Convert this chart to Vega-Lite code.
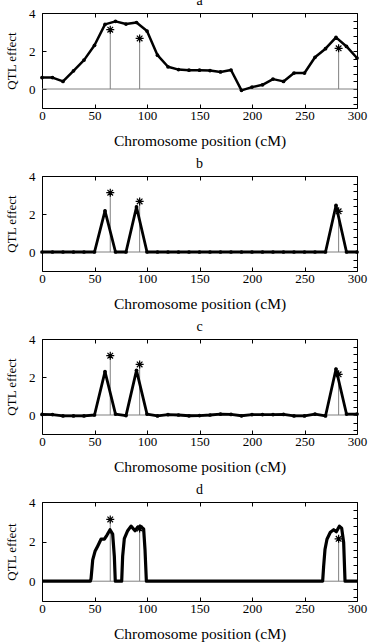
{
  "$schema": "https://vega.github.io/schema/vega-lite/v6.json",
  "padding": {"left": 5, "top": -7, "right": 10, "bottom": 0},
  "spacing": 7,
  "config": {
    "view": {"stroke": "black", "strokeWidth": 1},
    "font": "Liberation Serif",
    "title": {"font": "Liberation Serif", "fontSize": 14, "fontWeight": "normal", "color": "black", "offset": -1},
    "axis": {
      "domain": false, "grid": false, "minExtent": 0, "ticks": true,
      "tickColor": "black", "tickSize": -4, "tickWidth": 1,
      "labelColor": "black", "labelFont": "Liberation Serif", "labelFontSize": 13,
      "labelOverlap": false, "labelFlush": false,
      "titleColor": "black", "titleFont": "Liberation Serif", "titleFontWeight": "normal"
    }
  },
  "datasets": {
    "profile": [
      {"panel": "a", "pos": 0, "effect": 0.6}, {"panel": "a", "pos": 10, "effect": 0.6}, {"panel": "a", "pos": 20, "effect": 0.4},
      {"panel": "a", "pos": 30, "effect": 0.96}, {"panel": "a", "pos": 40, "effect": 1.52}, {"panel": "a", "pos": 50, "effect": 2.3},
      {"panel": "a", "pos": 60, "effect": 3.4}, {"panel": "a", "pos": 70, "effect": 3.56}, {"panel": "a", "pos": 80, "effect": 3.42},
      {"panel": "a", "pos": 90, "effect": 3.5}, {"panel": "a", "pos": 100, "effect": 3.05}, {"panel": "a", "pos": 110, "effect": 1.78},
      {"panel": "a", "pos": 120, "effect": 1.17}, {"panel": "a", "pos": 130, "effect": 1.02}, {"panel": "a", "pos": 140, "effect": 0.99},
      {"panel": "a", "pos": 150, "effect": 0.99}, {"panel": "a", "pos": 160, "effect": 0.97}, {"panel": "a", "pos": 170, "effect": 0.9},
      {"panel": "a", "pos": 180, "effect": 1.0}, {"panel": "a", "pos": 190, "effect": -0.07}, {"panel": "a", "pos": 200, "effect": 0.1},
      {"panel": "a", "pos": 210, "effect": 0.22}, {"panel": "a", "pos": 220, "effect": 0.52}, {"panel": "a", "pos": 230, "effect": 0.4},
      {"panel": "a", "pos": 240, "effect": 0.84}, {"panel": "a", "pos": 250, "effect": 0.84}, {"panel": "a", "pos": 260, "effect": 1.67},
      {"panel": "a", "pos": 270, "effect": 2.12}, {"panel": "a", "pos": 280, "effect": 2.72}, {"panel": "a", "pos": 290, "effect": 2.24},
      {"panel": "a", "pos": 300, "effect": 1.63},

      {"panel": "b", "pos": 0, "effect": 0}, {"panel": "b", "pos": 10, "effect": 0}, {"panel": "b", "pos": 20, "effect": 0},
      {"panel": "b", "pos": 30, "effect": 0}, {"panel": "b", "pos": 40, "effect": 0}, {"panel": "b", "pos": 50, "effect": 0},
      {"panel": "b", "pos": 60, "effect": 2.16}, {"panel": "b", "pos": 70, "effect": 0}, {"panel": "b", "pos": 80, "effect": 0},
      {"panel": "b", "pos": 90, "effect": 2.37}, {"panel": "b", "pos": 100, "effect": 0}, {"panel": "b", "pos": 110, "effect": 0},
      {"panel": "b", "pos": 120, "effect": 0}, {"panel": "b", "pos": 130, "effect": 0}, {"panel": "b", "pos": 140, "effect": 0},
      {"panel": "b", "pos": 150, "effect": 0}, {"panel": "b", "pos": 160, "effect": 0}, {"panel": "b", "pos": 170, "effect": 0},
      {"panel": "b", "pos": 180, "effect": 0}, {"panel": "b", "pos": 190, "effect": 0}, {"panel": "b", "pos": 200, "effect": 0},
      {"panel": "b", "pos": 210, "effect": 0}, {"panel": "b", "pos": 220, "effect": 0}, {"panel": "b", "pos": 230, "effect": 0},
      {"panel": "b", "pos": 240, "effect": 0}, {"panel": "b", "pos": 250, "effect": 0}, {"panel": "b", "pos": 260, "effect": 0},
      {"panel": "b", "pos": 270, "effect": 0}, {"panel": "b", "pos": 280, "effect": 2.45}, {"panel": "b", "pos": 290, "effect": 0},
      {"panel": "b", "pos": 300, "effect": 0},

      {"panel": "c", "pos": 0, "effect": 0.03}, {"panel": "c", "pos": 10, "effect": 0.02}, {"panel": "c", "pos": 20, "effect": -0.05},
      {"panel": "c", "pos": 30, "effect": -0.05}, {"panel": "c", "pos": 40, "effect": -0.05}, {"panel": "c", "pos": 50, "effect": 0},
      {"panel": "c", "pos": 60, "effect": 2.28}, {"panel": "c", "pos": 70, "effect": 0.05}, {"panel": "c", "pos": 80, "effect": -0.03},
      {"panel": "c", "pos": 90, "effect": 2.35}, {"panel": "c", "pos": 100, "effect": 0.05}, {"panel": "c", "pos": 110, "effect": -0.05},
      {"panel": "c", "pos": 120, "effect": 0.02}, {"panel": "c", "pos": 130, "effect": 0}, {"panel": "c", "pos": 140, "effect": -0.04},
      {"panel": "c", "pos": 150, "effect": -0.03}, {"panel": "c", "pos": 160, "effect": 0}, {"panel": "c", "pos": 170, "effect": 0.05},
      {"panel": "c", "pos": 180, "effect": 0.03}, {"panel": "c", "pos": 190, "effect": -0.04}, {"panel": "c", "pos": 200, "effect": 0.02},
      {"panel": "c", "pos": 210, "effect": 0.02}, {"panel": "c", "pos": 220, "effect": 0.02}, {"panel": "c", "pos": 230, "effect": 0.03},
      {"panel": "c", "pos": 240, "effect": -0.05}, {"panel": "c", "pos": 250, "effect": -0.05}, {"panel": "c", "pos": 260, "effect": 0.04},
      {"panel": "c", "pos": 270, "effect": -0.05}, {"panel": "c", "pos": 280, "effect": 2.42}, {"panel": "c", "pos": 290, "effect": 0.05},
      {"panel": "c", "pos": 300, "effect": 0.05},

      {"panel": "d", "pos": 0, "effect": 0}, {"panel": "d", "pos": 46, "effect": 0}, {"panel": "d", "pos": 46.7, "effect": 0.12},
      {"panel": "d", "pos": 48.3, "effect": 1.08}, {"panel": "d", "pos": 50.5, "effect": 1.51}, {"panel": "d", "pos": 53, "effect": 1.77},
      {"panel": "d", "pos": 56.2, "effect": 2.12}, {"panel": "d", "pos": 59.4, "effect": 2.12}, {"panel": "d", "pos": 61.9, "effect": 2.33},
      {"panel": "d", "pos": 64.8, "effect": 2.6}, {"panel": "d", "pos": 67.3, "effect": 2.38}, {"panel": "d", "pos": 68.9, "effect": 1.25},
      {"panel": "d", "pos": 69.8, "effect": 0}, {"panel": "d", "pos": 75.9, "effect": 0}, {"panel": "d", "pos": 76.8, "effect": 1.25},
      {"panel": "d", "pos": 78.4, "effect": 2.15}, {"panel": "d", "pos": 81.6, "effect": 2.55}, {"panel": "d", "pos": 84.8, "effect": 2.78},
      {"panel": "d", "pos": 88.6, "effect": 2.55}, {"panel": "d", "pos": 91.1, "effect": 2.73}, {"panel": "d", "pos": 93.7, "effect": 2.78},
      {"panel": "d", "pos": 96.8, "effect": 2.64}, {"panel": "d", "pos": 98.1, "effect": 1.6}, {"panel": "d", "pos": 99.4, "effect": 0},
      {"panel": "d", "pos": 267.3, "effect": 0}, {"panel": "d", "pos": 268.2, "effect": 0.73}, {"panel": "d", "pos": 269.5, "effect": 1.6},
      {"panel": "d", "pos": 271.4, "effect": 2.12}, {"panel": "d", "pos": 274.6, "effect": 2.47}, {"panel": "d", "pos": 277.8, "effect": 2.6},
      {"panel": "d", "pos": 280.3, "effect": 2.5}, {"panel": "d", "pos": 283.2, "effect": 2.78}, {"panel": "d", "pos": 285.4, "effect": 2.68},
      {"panel": "d", "pos": 287.3, "effect": 1.95}, {"panel": "d", "pos": 288.6, "effect": 0}, {"panel": "d", "pos": 300, "effect": 0}
    ],
    "qtl": [
      {"pos": 65, "effect": 3.12},
      {"pos": 93, "effect": 2.66},
      {"pos": 282.5, "effect": 2.14}
    ],
    "baseline": [
      {"start": 0, "end": 300, "effect": 0}
    ]
  },
  "vconcat": [
    {
      "title": "a", "width": 315, "height": 95,
      "resolve": {"axis": {"x": "independent", "y": "independent"}},
      "layer": [
        {
          "data": {"name": "baseline"},
          "mark": {"type": "rule", "color": "#808080", "strokeWidth": 1},
          "encoding": {
            "x": {"field": "start", "type": "quantitative", "scale": {"domain": [0, 300], "nice": false},
                  "axis": {"orient": "top", "values": [0, 50, 100, 150, 200, 250, 300], "labels": false, "ticks": true, "title": null}},
            "x2": {"field": "end"},
            "y": {"field": "effect", "type": "quantitative", "scale": {"domain": [-1, 4], "nice": false},
                  "axis": {"orient": "right", "values": [-0.8, -0.4, 0, 0.4, 0.8, 1.2, 1.6, 2, 2.4, 2.8, 3.2, 3.6, 4], "labels": false, "ticks": true, "title": null}}
          }
        },
        {
          "data": {"name": "qtl"},
          "mark": {"type": "rule", "color": "#808080", "strokeWidth": 1},
          "encoding": {
            "x": {"field": "pos", "type": "quantitative", "axis": null},
            "y": {"field": "effect", "type": "quantitative", "axis": null},
            "y2": {"datum": 0}
          }
        },
        {
          "data": {"name": "qtl"},
          "mark": {"type": "point", "shape": "M-1,0L1,0M0,-1L0,1M-0.7,-0.7L0.7,0.7M-0.7,0.7L0.7,-0.7", "size": 64, "filled": false, "color": "black", "strokeWidth": 1.2, "opacity": 1},
          "encoding": {
            "x": {"field": "pos", "type": "quantitative", "axis": null},
            "y": {"field": "effect", "type": "quantitative", "axis": null}
          }
        },
        {
          "data": {"name": "profile"},
          "transform": [{"filter": "datum.panel == 'a'"}],
          "mark": {"type": "line", "color": "black", "strokeWidth": 2.5, "strokeJoin": "round"},
          "encoding": {
            "x": {"field": "pos", "type": "quantitative",
                  "axis": {"orient": "bottom", "values": [0, 50, 100, 150, 200, 250, 300], "labelPadding": 5, "labelFlush": false, "title": "Chromosome position (cM)", "titleFontSize": 15.5, "titlePadding": 11}},
            "y": {"field": "effect", "type": "quantitative",
                  "axis": {"orient": "left", "values": [0, 2, 4], "format": "d", "labelPadding": 11, "title": "QTL effect", "titleFontSize": 13, "titlePadding": 10}}
          }
        },
        {
          "data": {"name": "profile"},
          "transform": [{"filter": "datum.panel == 'a'"}],
          "mark": {"type": "point", "shape": "circle", "filled": true, "color": "black", "size": 14, "opacity": 1},
          "encoding": {
            "x": {"field": "pos", "type": "quantitative", "axis": null},
            "y": {"field": "effect", "type": "quantitative", "axis": null}
          }
        }
      ]
    },
    {
      "title": "b", "width": 315, "height": 95,
      "resolve": {"axis": {"x": "independent", "y": "independent"}},
      "layer": [
        {
          "data": {"name": "baseline"},
          "mark": {"type": "rule", "color": "#808080", "strokeWidth": 1},
          "encoding": {
            "x": {"field": "start", "type": "quantitative", "scale": {"domain": [0, 300], "nice": false},
                  "axis": {"orient": "top", "values": [0, 50, 100, 150, 200, 250, 300], "labels": false, "ticks": true, "title": null}},
            "x2": {"field": "end"},
            "y": {"field": "effect", "type": "quantitative", "scale": {"domain": [-1, 4], "nice": false},
                  "axis": {"orient": "right", "values": [-0.8, -0.4, 0, 0.4, 0.8, 1.2, 1.6, 2, 2.4, 2.8, 3.2, 3.6, 4], "labels": false, "ticks": true, "title": null}}
          }
        },
        {
          "data": {"name": "qtl"},
          "mark": {"type": "rule", "color": "#808080", "strokeWidth": 1},
          "encoding": {
            "x": {"field": "pos", "type": "quantitative", "axis": null},
            "y": {"field": "effect", "type": "quantitative", "axis": null},
            "y2": {"datum": 0}
          }
        },
        {
          "data": {"name": "qtl"},
          "mark": {"type": "point", "shape": "M-1,0L1,0M0,-1L0,1M-0.7,-0.7L0.7,0.7M-0.7,0.7L0.7,-0.7", "size": 64, "filled": false, "color": "black", "strokeWidth": 1.2, "opacity": 1},
          "encoding": {
            "x": {"field": "pos", "type": "quantitative", "axis": null},
            "y": {"field": "effect", "type": "quantitative", "axis": null}
          }
        },
        {
          "data": {"name": "profile"},
          "transform": [{"filter": "datum.panel == 'b'"}],
          "mark": {"type": "line", "color": "black", "strokeWidth": 2.8, "strokeJoin": "round"},
          "encoding": {
            "x": {"field": "pos", "type": "quantitative",
                  "axis": {"orient": "bottom", "values": [0, 50, 100, 150, 200, 250, 300], "labelPadding": 5, "labelFlush": false, "title": "Chromosome position (cM)", "titleFontSize": 15.5, "titlePadding": 11}},
            "y": {"field": "effect", "type": "quantitative",
                  "axis": {"orient": "left", "values": [0, 2, 4], "format": "d", "labelPadding": 11, "title": "QTL effect", "titleFontSize": 13, "titlePadding": 10}}
          }
        },
        {
          "data": {"name": "profile"},
          "transform": [{"filter": "datum.panel == 'b'"}],
          "mark": {"type": "point", "shape": "circle", "filled": true, "color": "black", "size": 14, "opacity": 1},
          "encoding": {
            "x": {"field": "pos", "type": "quantitative", "axis": null},
            "y": {"field": "effect", "type": "quantitative", "axis": null}
          }
        }
      ]
    },
    {
      "title": "c", "width": 315, "height": 95,
      "resolve": {"axis": {"x": "independent", "y": "independent"}},
      "layer": [
        {
          "data": {"name": "baseline"},
          "mark": {"type": "rule", "color": "#808080", "strokeWidth": 1},
          "encoding": {
            "x": {"field": "start", "type": "quantitative", "scale": {"domain": [0, 300], "nice": false},
                  "axis": {"orient": "top", "values": [0, 50, 100, 150, 200, 250, 300], "labels": false, "ticks": true, "title": null}},
            "x2": {"field": "end"},
            "y": {"field": "effect", "type": "quantitative", "scale": {"domain": [-1, 4], "nice": false},
                  "axis": {"orient": "right", "values": [-0.8, -0.4, 0, 0.4, 0.8, 1.2, 1.6, 2, 2.4, 2.8, 3.2, 3.6, 4], "labels": false, "ticks": true, "title": null}}
          }
        },
        {
          "data": {"name": "qtl"},
          "mark": {"type": "rule", "color": "#808080", "strokeWidth": 1},
          "encoding": {
            "x": {"field": "pos", "type": "quantitative", "axis": null},
            "y": {"field": "effect", "type": "quantitative", "axis": null},
            "y2": {"datum": 0}
          }
        },
        {
          "data": {"name": "qtl"},
          "mark": {"type": "point", "shape": "M-1,0L1,0M0,-1L0,1M-0.7,-0.7L0.7,0.7M-0.7,0.7L0.7,-0.7", "size": 64, "filled": false, "color": "black", "strokeWidth": 1.2, "opacity": 1},
          "encoding": {
            "x": {"field": "pos", "type": "quantitative", "axis": null},
            "y": {"field": "effect", "type": "quantitative", "axis": null}
          }
        },
        {
          "data": {"name": "profile"},
          "transform": [{"filter": "datum.panel == 'c'"}],
          "mark": {"type": "line", "color": "black", "strokeWidth": 2.8, "strokeJoin": "round"},
          "encoding": {
            "x": {"field": "pos", "type": "quantitative",
                  "axis": {"orient": "bottom", "values": [0, 50, 100, 150, 200, 250, 300], "labelPadding": 5, "labelFlush": false, "title": "Chromosome position (cM)", "titleFontSize": 15.5, "titlePadding": 11}},
            "y": {"field": "effect", "type": "quantitative",
                  "axis": {"orient": "left", "values": [0, 2, 4], "format": "d", "labelPadding": 11, "title": "QTL effect", "titleFontSize": 13, "titlePadding": 10}}
          }
        },
        {
          "data": {"name": "profile"},
          "transform": [{"filter": "datum.panel == 'c'"}],
          "mark": {"type": "point", "shape": "circle", "filled": true, "color": "black", "size": 14, "opacity": 1},
          "encoding": {
            "x": {"field": "pos", "type": "quantitative", "axis": null},
            "y": {"field": "effect", "type": "quantitative", "axis": null}
          }
        }
      ]
    },
    {
      "title": "d", "width": 315, "height": 99,
      "resolve": {"axis": {"x": "independent", "y": "independent"}},
      "layer": [
        {
          "data": {"name": "baseline"},
          "mark": {"type": "rule", "color": "#808080", "strokeWidth": 1},
          "encoding": {
            "x": {"field": "start", "type": "quantitative", "scale": {"domain": [0, 300], "nice": false},
                  "axis": {"orient": "top", "values": [0, 50, 100, 150, 200, 250, 300], "labels": false, "ticks": true, "title": null}},
            "x2": {"field": "end"},
            "y": {"field": "effect", "type": "quantitative", "scale": {"domain": [-1, 4], "nice": false},
                  "axis": {"orient": "right", "values": [-0.8, -0.4, 0, 0.4, 0.8, 1.2, 1.6, 2, 2.4, 2.8, 3.2, 3.6, 4], "labels": false, "ticks": true, "title": null}}
          }
        },
        {
          "data": {"name": "qtl"},
          "mark": {"type": "rule", "color": "#808080", "strokeWidth": 1},
          "encoding": {
            "x": {"field": "pos", "type": "quantitative", "axis": null},
            "y": {"field": "effect", "type": "quantitative", "axis": null},
            "y2": {"datum": 0}
          }
        },
        {
          "data": {"name": "qtl"},
          "mark": {"type": "point", "shape": "M-1,0L1,0M0,-1L0,1M-0.7,-0.7L0.7,0.7M-0.7,0.7L0.7,-0.7", "size": 64, "filled": false, "color": "black", "strokeWidth": 1.2, "opacity": 1},
          "encoding": {
            "x": {"field": "pos", "type": "quantitative", "axis": null},
            "y": {"field": "effect", "type": "quantitative", "axis": null}
          }
        },
        {
          "data": {"name": "profile"},
          "transform": [{"filter": "datum.panel == 'd'"}],
          "mark": {"type": "line", "color": "black", "strokeWidth": 3.2, "strokeJoin": "round"},
          "encoding": {
            "x": {"field": "pos", "type": "quantitative",
                  "axis": {"orient": "bottom", "values": [0, 50, 100, 150, 200, 250, 300], "labelPadding": 5, "labelFlush": false, "title": "Chromosome position (cM)", "titleFontSize": 15.5, "titlePadding": 11}},
            "y": {"field": "effect", "type": "quantitative",
                  "axis": {"orient": "left", "values": [0, 2, 4], "format": "d", "labelPadding": 11, "title": "QTL effect", "titleFontSize": 13, "titlePadding": 10}}
          }
        }
      ]
    }
  ]
}
